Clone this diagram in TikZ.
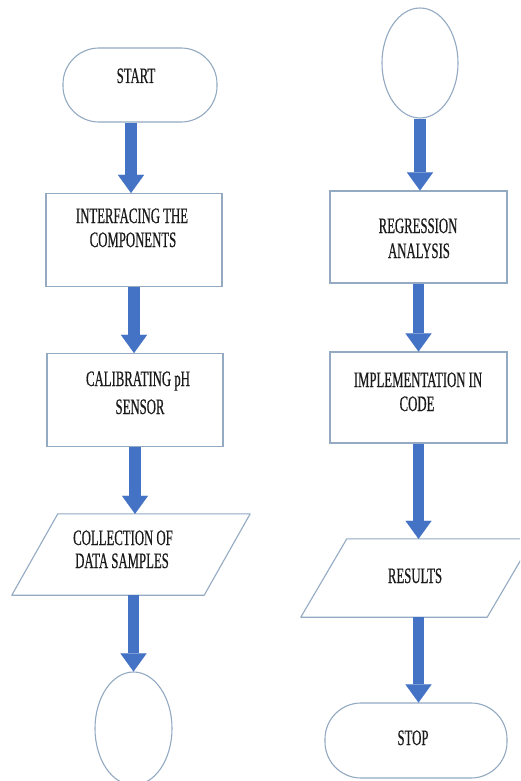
\documentclass[tikz,border=0pt]{standalone}
\usepackage{fontspec}
\newfontfamily\tnr[FakeStretch=0.58,FakeBold=0.5]{Liberation Serif}
\usetikzlibrary{shapes.geometric,arrows.meta}
\definecolor{edge}{HTML}{93AAC2}
\definecolor{flow}{HTML}{4472C4}
\definecolor{ink}{HTML}{1A1A1A}
\begin{document}
\begin{tikzpicture}[x=1pt,y=-1pt,
  frame/.style={draw=edge, line width=1.1pt, fill=white, inner sep=0pt},
  stepbox/.style={frame, rectangle, minimum width=176pt, minimum height=93pt},
  terminal/.style={frame, rectangle, rounded corners=36pt},
  connector/.style={frame, ellipse, minimum width=77pt, minimum height=111pt},
  ioframe/.style={draw=none, rectangle, inner sep=0pt},
  iopath/.style={draw=edge, line width=1.1pt, fill=white, line join=round},
  blk/.style={draw=flow, line width=11.5pt,
    -{Triangle[width=26pt,length=18pt,line width=0.01pt]}},
  txt/.style={font=\tnr\fontsize{22}{24}\selectfont, text=ink, inner sep=0pt, anchor=base}]

\useasboundingbox (0,0) rectangle (520,781);
\clip (0,0) rectangle (520,781);
\fill[white] (0,0) rectangle (520,781);

% ---- left column ----
\node[terminal, minimum width=154pt, minimum height=74pt] (start) at (140,85) {};
\node[stepbox] (b1) at (134,240) {};
\node[stepbox] (b2) at (135,400) {};
\node[ioframe, minimum width=238pt, minimum height=81pt] (p1) at (131,554.5) {};
\draw[iopath] ([xshift=46pt]p1.north west) -- (p1.north east)
  -- ([xshift=-46pt]p1.south east) -- (p1.south west) -- cycle;
\node[connector, minimum height=113pt] (e1) at (133.5,728.5) {};

% ---- right column ----
\node[connector, minimum width=76pt, minimum height=110pt] (e2) at (420,63) {};
\node[stepbox, minimum width=177pt, minimum height=92pt] (b3) at (418.5,237) {};
\node[stepbox, minimum width=177pt, minimum height=91pt] (b4) at (418.5,397.5) {};
\node[ioframe, minimum width=232pt, minimum height=78pt] (p2) at (417,578) {};
\draw[iopath] ([xshift=46pt]p2.north west) -- (p2.north east)
  -- ([xshift=-46pt]p2.south east) -- (p2.south west) -- cycle;
\node[terminal, minimum width=182pt, minimum height=75pt] (stop) at (416,740.5) {};

% ---- flow arrows ----
\draw[blk] ([xshift=-9pt]start.south) -- ([xshift=-9pt]start.south |- b1.north);
\draw[blk] (b1.south) -- (b1.south |- b2.north);
\draw[blk] (b2.south) -- (b2.south |- p1.north);
\draw[blk] (e1.north |- p1.south) -- (e1.north);
\draw[blk] (e2.south) -- (e2.south |- b3.north);
\draw[blk] (b3.south) -- (b3.south |- b4.north);
\draw[blk] (b4.south) -- (b4.south |- p2.north);
\draw[blk] (b4.south |- p2.south) -- (b4.south |- stop.north);

% ---- labels ----
\node[txt] (tstart) at (136,83) {START};
\node[txt] (t1a) at (132,223) {INTERFACING THE};
\node[txt] (t1b) at (133,247) {COMPONENTS};
\node[txt] (t2a) at (138,386) {CALIBRATING pH};
\node[txt] (t2b) at (140,414) {SENSOR};
\node[txt] (t3a) at (123,545) {COLLECTION OF};
\node[txt] (t3b) at (122,568) {DATA SAMPLES};
\node[txt] (t4a) at (418,233) {REGRESSION};
\node[txt] (t4b) at (419,258) {ANALYSIS};
\node[txt] (t5a) at (418,387) {IMPLEMENTATION IN};
\node[txt] (t5b) at (417,411) {CODE};
\node[txt] (t6) at (415,583) {RESULTS};
\node[txt] (tstop) at (413,745) {STOP};
\end{tikzpicture}
\end{document}
